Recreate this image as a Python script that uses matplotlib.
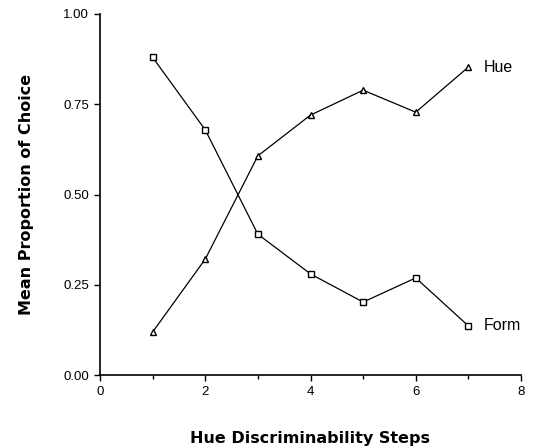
import numpy as np
import matplotlib.pyplot as plt

# Data
steps = [1, 2, 3, 4, 5, 6, 7]
hue = [0.119, 0.321, 0.607, 0.720, 0.789, 0.728, 0.853]
form = [0.880, 0.679, 0.390, 0.280, 0.202, 0.269, 0.136]

fig = plt.figure(figsize=(5.37, 4.47), dpi=100)
ax = fig.add_axes([100 / 537, 1 - 375 / 447, 421 / 537, 361 / 447])

ax.plot(steps, hue, color='black', linewidth=0.9, marker='^', markersize=5,
        markerfacecolor='white', markeredgecolor='black', markeredgewidth=1)
ax.plot(steps, form, color='black', linewidth=0.9, marker='s', markersize=4.5,
        markerfacecolor='white', markeredgecolor='black', markeredgewidth=1)

ax.text(steps[-1] + 0.3, hue[-1], 'Hue', fontsize=11.5, va='center', ha='left',
        family='Liberation Sans')
ax.text(steps[-1] + 0.3, form[-1], 'Form', fontsize=11.5, va='center', ha='left',
        family='Liberation Sans')

ax.set_xlim(0, 8)
ax.set_ylim(0, 1.0)
ax.set_xticks([0, 2, 4, 6, 8])
ax.set_xticks([1, 3, 5, 7], minor=True)
ax.set_yticks([0, 0.25, 0.5, 0.75, 1.0])
ax.set_yticklabels(['0.00', '0.25', '0.50', '0.75', '1.00'])
for lab in ax.get_xticklabels() + ax.get_yticklabels():
    lab.set_family('Liberation Sans')
    lab.set_fontsize(9.5)
ax.tick_params(axis='both', which='major', length=4, width=1, direction='out', pad=4)
ax.tick_params(axis='x', which='minor', length=3, width=1, direction='out')

ax.spines['top'].set_visible(False)
ax.spines['right'].set_visible(False)
ax.spines['left'].set_linewidth(1.2)
ax.spines['bottom'].set_linewidth(1.2)

ax.set_xlabel('Hue Discriminability Steps', fontsize=11.5, fontweight='bold', labelpad=24)
ax.set_ylabel('Mean Proportion of Choice', fontsize=11.5, fontweight='bold', labelpad=21)

fig.savefig('out.png', dpi=100)
